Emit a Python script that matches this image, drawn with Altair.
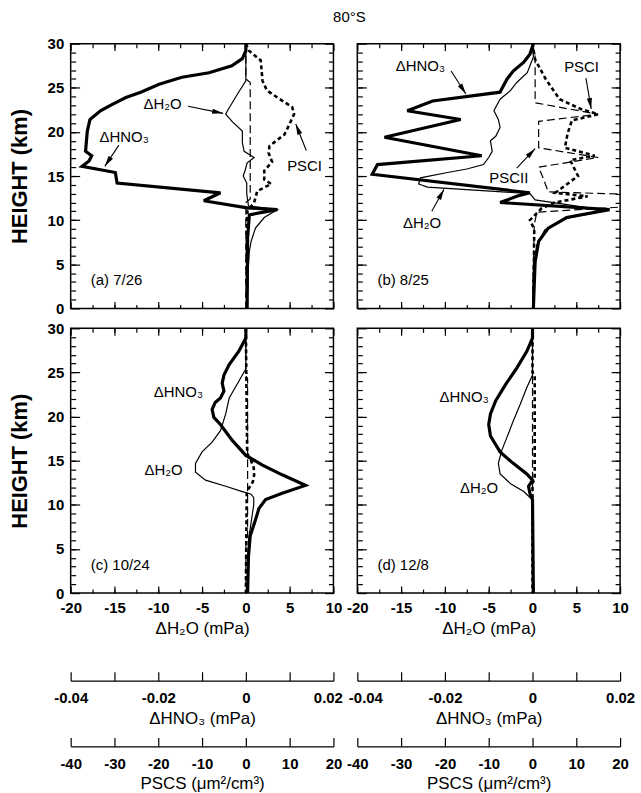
import math
import altair as alt
import pandas as pd

# ---------------- data ----------------
# heights in km; ΔH2O and ΔHNO3 in mPa; PSC surface area in μm²/cm³

# (a) 7/26
A_H2O_Z = [30, 25.8, 24.3, 22.4, 22.0, 21.1, 20.1, 18.8, 17.8, 17.1, 16.5, 15.6, 15.0, 14.2, 13.0, 11.6, 11.2, 10.3, 9.1, 7.6, 6.5, 4.0, 0]
A_H2O = [0, 0, -0.95, -2.1, -2.3, -1.5, -0.4, -0.4, -0.2, 0.95, 0.15, -0.1, -0.3, 0.1, 0.1, 0.3, 3.6, 2.1, 1.1, 0.6, 0.4, 0.25, 0.15]
A_HNO3_Z = [30, 29.2, 28.3, 27.5, 26.7, 26.2, 25.4, 24.5, 23.9, 23.1, 22.4, 21.4, 20.1, 17.8, 17.3, 16.7, 16.1, 15.4, 14.2, 13.1, 12.2, 11.4, 11.2, 10.6, 8.0, 0]
A_HNO3 = [0, 0, -0.0008, -0.0032, -0.0084, -0.0146, -0.0198, -0.0240, -0.0274, -0.0306, -0.0332, -0.0356, -0.0362, -0.0366, -0.0352, -0.0358, -0.0374, -0.0298, -0.0294, -0.0058, -0.0096, 0.0003, 0.0072, 0.0008, 0.0004, 0.0003]
A_PSCI_Z = [30, 29.2, 28.1, 25.8, 24.7, 23.9, 22.8, 22.0, 20.7, 19.7, 18.4, 17.6, 16.6, 15.6, 14.6, 14.1, 13.3, 12.0, 11.1, 10.0, 0]
A_PSCI = [0, 0.7, 3.4, 3.8, 4.8, 7.2, 10.6, 11.0, 9.8, 8.8, 5.4, 5.2, 6.0, 4.2, 4.2, 5.8, 2.6, 1.9, 0.4, 0.2, 0.2]
A_PSCII_Z = [30, 26.0, 25.6, 12.4, 12.0, 0]
A_PSCII = [0, 0, 1.0, 1.0, 0, 0]

# (b) 8/25
B_H2O_Z = [30, 28.5, 26.7, 25.6, 24.7, 23.7, 22.8, 22.4, 21.4, 20.5, 19.5, 19.0, 17.8, 17.1, 16.3, 15.8, 15.4, 14.8, 14.1, 13.75, 13.0, 12.3, 11.1, 10.1, 8.9, 7.2, 4.6, 0]
B_H2O = [0, 0.1, -0.6, -1.8, -2.5, -3.7, -4.2, -4.4, -3.9, -3.7, -4.2, -4.8, -4.6, -5.0, -5.6, -7.5, -9.7, -12.8, -13.0, -12.0, -0.3, 0.3, 8.3, 3.5, 1.4, 0.5, 0.1, 0]
B_HNO3_Z = [30, 28.8, 27.9, 26.9, 26.0, 24.9, 24.5, 23.5, 22.4, 21.4, 19.4, 17.3, 16.3, 15.2, 13.1, 12.7, 12.0, 11.2, 10.3, 9.1, 7.6, 5.3, 0]
B_HNO3 = [0.0002, -0.0006, -0.0020, -0.0044, -0.0058, -0.0070, -0.0074, -0.0228, -0.0286, -0.0164, -0.0338, -0.0116, -0.0354, -0.0366, -0.0006, -0.0036, -0.0074, 0.0176, 0.0078, 0.0036, 0.0014, 0.0006, 0.0002]
B_PSCI_Z = [30, 28.2, 26.0, 23.7, 22.6, 22.0, 21.3, 19.8, 18.2, 17.3, 16.8, 15.0, 13.1, 12.7, 12.0, 11.3, 10.6, 10.0, 9.0, 0]
B_PSCI = [0, 0.6, 3.0, 6.2, 11.0, 15.0, 9.0, 8.0, 7.4, 14.2, 8.6, 10.4, 5.2, 12.6, 5.0, 2.0, 0.6, -0.6, 0.4, 0.2]
B_PSCII_Z = [30, 28.6, 23.3, 22.0, 21.2, 18.2, 17.1, 16.0, 14.8, 13.2, 12.9, 11.6, 10.9, 9.5, 0]
B_PSCII = [0, 0.6, 0.6, 15.0, 1.4, 1.4, 15.0, 1.4, 2.4, 3.6, 24.0, 24.0, 1.0, 0.4, 0]

# (c) 10/24
C_H2O_Z = [30, 25.4, 24.0, 22.1, 20.3, 18.4, 17.1, 16.0, 14.7, 13.7, 12.8, 12.1, 11.5, 11.2, 10.8, 10.0, 8.0, 6.0, 0]
C_H2O = [0, 0, -0.8, -1.9, -2.3, -2.9, -3.85, -5.0, -5.75, -5.75, -4.6, -2.3, -0.4, 0.6, 0.9, 0.9, 0.6, 0.3, 0.2]
C_HNO3_Z = [30, 28.9, 27.4, 25.9, 24.7, 23.8, 22.9, 22.1, 21.6, 20.8, 19.9, 19.1, 17.3, 15.6, 14.5, 13.4, 12.2, 11.3, 10.6, 9.6, 8.3, 6.5, 4.2, 0]
C_HNO3 = [0, 0, -0.0016, -0.0038, -0.0050, -0.0054, -0.0050, -0.0058, -0.0070, -0.0077, -0.0073, -0.0058, -0.0031, 0, 0.0038, 0.0083, 0.0136, 0.0083, 0.0045, 0.0030, 0.0022, 0.0010, 0.0006, 0.0004]
C_PSCI_Z = [30, 15.8, 15.0, 14.2, 13.4, 12.6, 11.8, 11.3, 0]
C_PSCI = [0, 0.3, 1.2, 1.8, 1.9, 1.6, 0.6, 0.2, 0]
C_PSCII_Z = [30, 24.6, 24.3, 6.4, 6.1, 0]
C_PSCII = [0, 0, 0.4, 0.4, 0, 0]

# (d) 12/8
D_H2O_Z = [30, 24.7, 23.3, 21.4, 19.5, 17.7, 16.2, 14.7, 13.5, 12.4, 11.5, 10.75, 10.5, 0]
D_H2O = [0, 0, -0.65, -1.4, -2.2, -2.9, -3.5, -3.9, -3.7, -2.5, -1.0, -0.2, 0, 0]
D_HNO3_Z = [30, 28.9, 27.4, 25.5, 23.6, 21.8, 20.3, 19.1, 17.8, 16.0, 14.7, 13.5, 12.8, 12.1, 11.3, 10.6, 0]
D_HNO3 = [0, 0, -0.0013, -0.0036, -0.0062, -0.0084, -0.0096, -0.0100, -0.0096, -0.0074, -0.0044, -0.0013, 0, -0.0009, -0.0006, 0, 0.0002]
D_PSCI_Z = [30, 25.0, 24.7, 12.8, 12.5, 0]
D_PSCI = [0, 0, 0.5, 0.5, 0, 0]
D_PSCII_Z = [30, 0]
D_PSCII = [0, 0]

# annotations (x in ΔH2O units, z in km)
A_TXT = ["ΔH₂O", "ΔHNO₃", "PSCI"]
A_TXT_X = [-9.5, -13.9, 6.7]
A_TXT_Z = [23.2, 19.4, 16.1]
A_ARR_X1 = [-6.6, -14.5, 6.9]
A_ARR_Z1 = [22.9, 18.5, 17.9]
A_ARR_X2 = [-2.6, -16.1, 5.7]
A_ARR_Z2 = [22.1, 16.1, 20.9]

B_TXT = ["ΔHNO₃", "PSCI", "PSCII", "ΔH₂O"]
B_TXT_X = [-12.8, 5.6, -2.7, -12.6]
B_TXT_Z = [27.5, 27.3, 14.8, 9.7]
B_ARR_X1 = [-9.3, 6.1, -1.8, -11.5]
B_ARR_Z1 = [26.9, 26.1, 15.9, 11.0]
B_ARR_X2 = [-7.6, 6.7, 0.3, -10.1]
B_ARR_Z2 = [24.3, 22.6, 18.1, 13.5]

C_TXT = ["ΔHNO₃", "ΔH₂O"]
C_TXT_X = [-7.7, -9.4]
C_TXT_Z = [22.8, 13.9]

D_TXT = ["ΔHNO₃", "ΔH₂O"]
D_TXT_X = [-7.8, -6.1]
D_TXT_Z = [22.2, 11.9]

PANEL_LABELS = ["(a) 7/26", "(b) 8/25", "(c) 10/24", "(d) 12/8"]
LABEL_X = -17.7
LABEL_Z = 3.2

H2O_DOMAIN = [-20, 10]
HNO3_DOMAIN = [-0.04, 0.02]
PSC_DOMAIN = [-40, 20]
Z_DOMAIN = [0, 30]
H2O_MINOR = [-17.5, -15, -12.5, -10, -7.5, -5, -2.5, 0, 2.5, 5, 7.5]
H2O_MAJOR = [-20, -15, -10, -5, 0, 5, 10]
Z_MINOR = list(range(1, 30))
Z_MAJOR = [0, 5, 10, 15, 20, 25, 30]
HNO3_TICKS = [-0.04, -0.03, -0.02, -0.01, 0, 0.01, 0.02]
HNO3_LABELS = [-0.04, -0.02, 0, 0.02]
PSC_TICKS = [-40, -30, -20, -10, 0, 10, 20]

# ---------------- styling ----------------
W, H = 264, 266
FONT = "Liberation Sans"
D1, D2 = 88, 154          # offsets of the extra bottom axes
ARROW = "M0,0L-0.55,2.3L0.55,2.3Z"
MINUS = "replace(format(datum.value, '~g'), '\u2212', '-')"


def sc(dom):
    return alt.Scale(domain=dom, nice=False, zero=False)


def profile(z, v, dom, **style):
    df = pd.DataFrame({"z": z, "v": v, "i": list(range(len(z)))})
    return alt.Chart(df).mark_line(clip=True, color="black", **style).encode(
        x=alt.X("v:Q", scale=sc(dom), axis=None),
        y=alt.Y("z:Q", scale=sc(Z_DOMAIN), axis=None),
        order="i:Q",
    )


def texts(xs, zs, labels, **kw):
    df = pd.DataFrame({"x": xs, "z": zs, "t": labels})
    return alt.Chart(df).mark_text(font=FONT, fontSize=15, color="black", **kw).encode(
        x=alt.X("x:Q", scale=sc(H2O_DOMAIN), axis=None),
        y=alt.Y("z:Q", scale=sc(Z_DOMAIN), axis=None),
        text="t:N",
    )


def arrows(x1, z1, x2, z2):
    ang = []
    for a, b, c, d in zip(x1, z1, x2, z2):
        dx = (c - a) * W / 30.0
        dy = -(d - b) * H / 30.0
        ang.append(math.degrees(math.atan2(dx, -dy)) % 360)
    df = pd.DataFrame({"x1": x1, "z1": z1, "x2": x2, "z2": z2, "ang": ang})
    rule = alt.Chart(df).mark_rule(color="black", strokeWidth=1.1).encode(
        x=alt.X("x1:Q", scale=sc(H2O_DOMAIN), axis=None),
        y=alt.Y("z1:Q", scale=sc(Z_DOMAIN), axis=None),
        x2="x2:Q", y2="z2:Q",
    )
    head = alt.Chart(df).mark_point(shape=ARROW, filled=True, color="black",
                                    size=90, opacity=1, strokeWidth=0).encode(
        x=alt.X("x2:Q", scale=sc(H2O_DOMAIN), axis=None),
        y=alt.Y("z2:Q", scale=sc(Z_DOMAIN), axis=None),
        angle=alt.Angle("ang:Q", scale=None),
    )
    return [rule, head]


HOST = pd.DataFrame({"x": [0.0], "y": [0.0]})


def host(xaxis, yaxis, xdom=H2O_DOMAIN):
    return alt.Chart(HOST).mark_point(opacity=0).encode(
        x=alt.X("x:Q", scale=sc(xdom), axis=xaxis),
        y=alt.Y("y:Q", scale=sc(Z_DOMAIN), axis=yaxis),
    )


def tick_axis(orient, values, size):
    return alt.Axis(orient=orient, values=values, tickSize=size, offset=-size,
                    domain=False, labels=False, grid=False, title=None,
                    tickColor="black", tickWidth=1.2)


LAB = dict(labelFont=FONT, labelFontSize=15, labelFontWeight="bold", labelColor="black",
           labelFlush=False, labelOverlap=False, labelBound=False)
TIT = dict(titleFont=FONT, titleColor="black")


def panel(h2o_z, h2o, hno3_z, hno3, p1_z, p1, p2_z, p2, label, txt, tx, tz,
          arr=None, left=False, bottom=False):
    layers = [
        profile(p2_z, p2, PSC_DOMAIN, strokeWidth=1.2, strokeDash=[8, 4]),
        profile(p1_z, p1, PSC_DOMAIN, strokeWidth=2.6, strokeDash=[4, 3]),
        profile(h2o_z, h2o, H2O_DOMAIN, strokeWidth=1.2),
        profile(hno3_z, hno3, HNO3_DOMAIN, strokeWidth=3.2, strokeMiterLimit=3),
        texts(tx, tz, txt),
        texts([LABEL_X], [LABEL_Z], [label], align="left"),
    ]
    if arr is not None:
        layers += arrows(*arr)

    # frame ticks (inward)
    if bottom:
        xmajor = alt.Axis(orient="bottom", values=H2O_MAJOR, tickSize=7, offset=-7,
                          domain=False, grid=False, tickColor="black", tickWidth=1.2,
                          labelPadding=8, labelExpr=MINUS, title="ΔH₂O (mPa)",
                          titleFontSize=17, titleFontWeight="normal", titlePadding=5,
                          **LAB, **TIT)
    else:
        xmajor = tick_axis("bottom", H2O_MAJOR, 7)
    if left:
        ymajor = alt.Axis(orient="left", values=Z_MAJOR, tickSize=9, offset=-9,
                          domain=False, grid=False, tickColor="black", tickWidth=1.2,
                          labelPadding=7, title="HEIGHT (km)", titleFontSize=22,
                          titleFontWeight="bold", titlePadding=16, **LAB, **TIT)
    else:
        ymajor = tick_axis("left", Z_MAJOR, 9)

    layers += [
        host(tick_axis("bottom", H2O_MINOR, 4), tick_axis("left", Z_MINOR, 5)),
        host(xmajor, ymajor),
        host(tick_axis("top", H2O_MINOR, 4), tick_axis("right", Z_MINOR, 5)),
        host(tick_axis("top", H2O_MAJOR, 7), tick_axis("right", Z_MAJOR, 9)),
    ]
    if bottom:
        if left:
            end_test = "datum.value > 0.015"
            align_cond = {"condition": {"test": end_test, "value": "right"}, "value": "center"}
            off_cond = {"condition": {"test": end_test, "value": 9}, "value": 0}
        else:
            end_test = "datum.value < -0.035"
            align_cond = {"condition": {"test": end_test, "value": "left"}, "value": "center"}
            off_cond = {"condition": {"test": end_test, "value": -9}, "value": 0}
        layers += [
            host(alt.Axis(orient="bottom", values=HNO3_TICKS, tickSize=9, offset=D1 - 9,
                          domain=False, labels=False, grid=False, title=None,
                          tickColor="black", tickWidth=1.2), None, HNO3_DOMAIN),
            host(alt.Axis(orient="bottom", values=HNO3_LABELS, ticks=False, tickSize=0,
                          offset=D1, domain=True, domainColor="black", domainWidth=1.3,
                          grid=False, labelPadding=10,
                          labelAlign=align_cond, labelOffset=off_cond,
                          labelExpr="datum.value == 0 ? '0' : replace(format(datum.value, '.2f'), '\u2212', '-')",
                          title="ΔHNO₃ (mPa)", titleFontSize=17, titleFontWeight="normal",
                          titlePadding=5, **LAB, **TIT), None, HNO3_DOMAIN),
            host(alt.Axis(orient="bottom", values=PSC_TICKS, tickSize=9, offset=D2 - 9,
                          domain=False, labels=False, grid=False, title=None,
                          tickColor="black", tickWidth=1.2), None, PSC_DOMAIN),
            host(alt.Axis(orient="bottom", values=PSC_TICKS, ticks=False, tickSize=0,
                          offset=D2, domain=True, domainColor="black", domainWidth=1.3,
                          grid=False, labelPadding=10, labelExpr=MINUS,
                          title="PSCS (μm²/cm³)", titleFontSize=17, titleFontWeight="normal",
                          titlePadding=4, **LAB, **TIT), None, PSC_DOMAIN),
        ]
    return alt.layer(*layers).resolve_scale(x="independent", y="independent").resolve_axis(
        x="independent", y="independent").properties(width=W, height=H)


pa = panel(A_H2O_Z, A_H2O, A_HNO3_Z, A_HNO3, A_PSCI_Z, A_PSCI, A_PSCII_Z, A_PSCII,
           PANEL_LABELS[0], A_TXT, A_TXT_X, A_TXT_Z,
           (A_ARR_X1, A_ARR_Z1, A_ARR_X2, A_ARR_Z2), left=True)
pb = panel(B_H2O_Z, B_H2O, B_HNO3_Z, B_HNO3, B_PSCI_Z, B_PSCI, B_PSCII_Z, B_PSCII,
           PANEL_LABELS[1], B_TXT, B_TXT_X, B_TXT_Z,
           (B_ARR_X1, B_ARR_Z1, B_ARR_X2, B_ARR_Z2))
pc = panel(C_H2O_Z, C_H2O, C_HNO3_Z, C_HNO3, C_PSCI_Z, C_PSCI, C_PSCII_Z, C_PSCII,
           PANEL_LABELS[2], C_TXT, C_TXT_X, C_TXT_Z, left=True, bottom=True)
pd_ = panel(D_H2O_Z, D_H2O, D_HNO3_Z, D_HNO3, D_PSCI_Z, D_PSCI, D_PSCII_Z, D_PSCII,
            PANEL_LABELS[3], D_TXT, D_TXT_X, D_TXT_Z, bottom=True)

chart = alt.concat(pa, pb, pc, pd_, columns=2, spacing={"row": 20, "column": 24},
                   bounds="flush").properties(
    title=alt.TitleParams("80°S", font=FONT, fontSize=15, fontWeight="normal",
                          anchor="middle", frame="group", offset=11, dx=280, color="black"),
    padding={"left": 7, "top": 8, "right": 5, "bottom": 0},
    background="white",
).configure_view(stroke="black", strokeWidth=1.5)

chart.save("out.html", embed_options={"renderer": "svg", "actions": False})
